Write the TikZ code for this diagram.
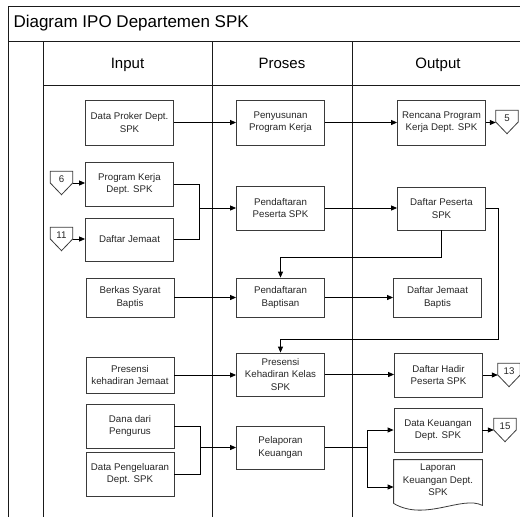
\documentclass[tikz,border=0pt]{standalone}
\usepackage{fontspec}
\setmainfont{Liberation Sans}
\usetikzlibrary{arrows.meta,positioning,calc}
\definecolor{boxline}{HTML}{3A3A3A}
\definecolor{lane}{HTML}{1A1A1A}
\tikzset{
    % Process box style
    ipobox/.style={
        rectangle,
        draw=boxline,
        line width=0.8pt,
        minimum width=88pt,
        minimum height=44pt,
        align=center,
        inner sep=2pt,
        font=\fontsize{9.7}{12.3}\selectfont,
        text=black!85
    },
    % Off-page connector (text part)
    offpage/.style={
        rectangle,
        minimum width=22pt,
        minimum height=23pt,
        inner sep=0pt,
        font=\fontsize{9.7}{12}\selectfont,
        text height=7pt,
        text depth=8pt,
        text=black!85
    },
    % Arrow styles
    flow/.style={
        -{Triangle[length=6pt, width=5pt]},
        line width=0.8pt,
        draw=black
    },
    joint/.style={
        line width=0.8pt,
        draw=black
    },
    % Swimlane lines
    laneline/.style={
        line width=1pt,
        draw=lane
    },
    % Lane header style
    header/.style={
        anchor=base,
        font=\fontsize{15}{18}\selectfont
    }
}
\begin{document}
\begin{tikzpicture}[x=1pt, y=-1pt]
    \useasboundingbox (0,0) rectangle (520,517);

    % Swimlane frame
    \draw[laneline] (8,530) -- (8,6) -- (530,6);
    \draw[laneline] (8,41) -- (530,41);
    \draw[laneline] (43,85) -- (530,85);
    \draw[laneline] (43,41) -- (43,530);
    \draw[laneline] (212,41) -- (212,530);
    \draw[laneline] (352,41) -- (352,530);

    % Title and headers
    \node[font=\fontsize{17}{20}\selectfont, anchor=west] (title) at (10,23.5) {Diagram IPO Departemen SPK};
    \node[header] (hinput) at (127.5,68.5) {Input};
    \node[header] (hproses) at (282,68.5) {Proses};
    \node[header] (houtput) at (438,68.5) {Output};

    % Input column
    \node[ipobox, minimum height=45pt] (dproker) at (129.5,122.5) {Data Proker Dept.\\SPK};
    \node[ipobox] (prokerja) at (129.5,184) {Program Kerja\\Dept. SPK};
    \node[ipobox, minimum height=43pt] (djemaat) at (129.5,239.5) {Daftar Jemaat};
    \node[ipobox, minimum height=39pt] (berkas) at (130,297.5) {Berkas Syarat\\Baptis};
    \node[ipobox, minimum height=36pt] (presensi) at (130,375) {Presensi\\kehadiran Jemaat};
    \node[ipobox] (dana) at (130,426) {Dana dari\\Pengurus};
    \node[ipobox] (dkeluar) at (130,474) {Data Pengeluaran\\Dept. SPK};

    % Proses column
    \node[ipobox, minimum height=45pt] (penyusunan) at (280.5,122.5) {Penyusunan\\Program Kerja};
    \node[ipobox] (pendpeserta) at (280.5,208) {Pendaftaran\\Peserta SPK};
    \node[ipobox, minimum height=39pt] (pendbaptis) at (280.5,297.5) {Pendaftaran\\Baptisan};
    \node[ipobox, minimum height=43pt] (preskelas) at (280.5,374.5) {Presensi\\Kehadiran Kelas\\SPK};
    \node[ipobox, minimum height=43pt] (pelaporan) at (280.5,447.5) {Pelaporan\\Keuangan};

    % Output column
    \node[ipobox, minimum height=45pt] (rencana) at (441.5,122.5) {Rencana Program\\Kerja Dept. SPK};
    \node[ipobox, minimum height=43pt] (dpeserta) at (441.5,208.5) {Daftar Peserta\\SPK};
    \node[ipobox, minimum height=39pt] (djbaptis) at (437.5,297.5) {Daftar Jemaat\\Baptis};
    \node[ipobox] (dhadir) at (438.5,375) {Daftar Hadir\\Peserta SPK};
    \node[ipobox] (dkeuangan) at (438,430) {Data Keuangan\\Dept. SPK};
    \node[ipobox, draw=none, minimum height=40pt] (laporan) at (438,480) {Laporan\\Keuangan Dept.\\SPK};
    \draw[draw=boxline, line width=0.8pt] ([yshift=-3pt]laporan.south west) -- (laporan.north west) -- (laporan.north east) -- ([yshift=-5pt]laporan.south east)
        .. controls (462,495) and (425,522) .. ([yshift=-3pt]laporan.south west);

    % Off-page connectors
    \node[offpage] (c5) at (507,122) {5};
    \node[offpage] (c6) at (61.5,183) {6};
    \node[offpage] (c11) at (61.5,239) {11};
    \node[offpage] (c13) at (509,375) {13};
    \node[offpage] (c15) at (505,430) {15};
    \foreach \c in {c5,c6,c11,c13,c15}
        \draw[draw=boxline, line width=0.8pt] (\c.north west) -- (\c.north east) -- (\c.east) -- (\c.south) -- (\c.west) -- cycle;

    % Connections
    \draw[flow] (dproker.east) -- (dproker.east -| penyusunan.west);
    \draw[flow] (penyusunan.east) -- (penyusunan.east -| rencana.west);
    \draw[flow] (rencana.east) -- (rencana.east -| c5.west);
    \draw[flow] (c6.east) -- (c6.east -| prokerja.west);
    \draw[flow] (c11.east) -- (c11.east -| djemaat.west);

    \coordinate (mergea) at (199,208);
    \draw[joint] (prokerja.east) -| (mergea);
    \draw[joint] (djemaat.east) -| (mergea);
    \draw[flow] (mergea) -- (mergea -| pendpeserta.west);
    \draw[flow] (pendpeserta.east) -- (pendpeserta.east -| dpeserta.west);
    \draw[flow] (dpeserta.south) -- ++(0,27) -| (pendbaptis.north);
    \draw[flow] (dpeserta.east) -| (498,339) -| (preskelas.north);

    \draw[flow] (berkas.east) -- (berkas.east -| pendbaptis.west);
    \draw[flow] (pendbaptis.east) -- (pendbaptis.east -| djbaptis.west);
    \draw[flow] (presensi.east) -- (presensi.east -| preskelas.west);
    \draw[flow] (preskelas.east) -- (preskelas.east -| dhadir.west);
    \draw[flow] (dhadir.east) -- (dhadir.east -| c13.west);

    \coordinate (mergeb) at (200,447.5);
    \draw[joint] (dana.east) -| (mergeb);
    \draw[joint] (dkeluar.east) -| (mergeb);
    \draw[flow] (mergeb) -- (mergeb -| pelaporan.west);
    \draw[joint] (pelaporan.east) -- ++(42,0) coordinate (split);
    \draw[flow] (split) |- (dkeuangan.west);
    \draw[flow] (split) |- ([yshift=-7pt]laporan.west);
    \draw[flow] (dkeuangan.east) -- (dkeuangan.east -| c15.west);

\end{tikzpicture}
\end{document}
